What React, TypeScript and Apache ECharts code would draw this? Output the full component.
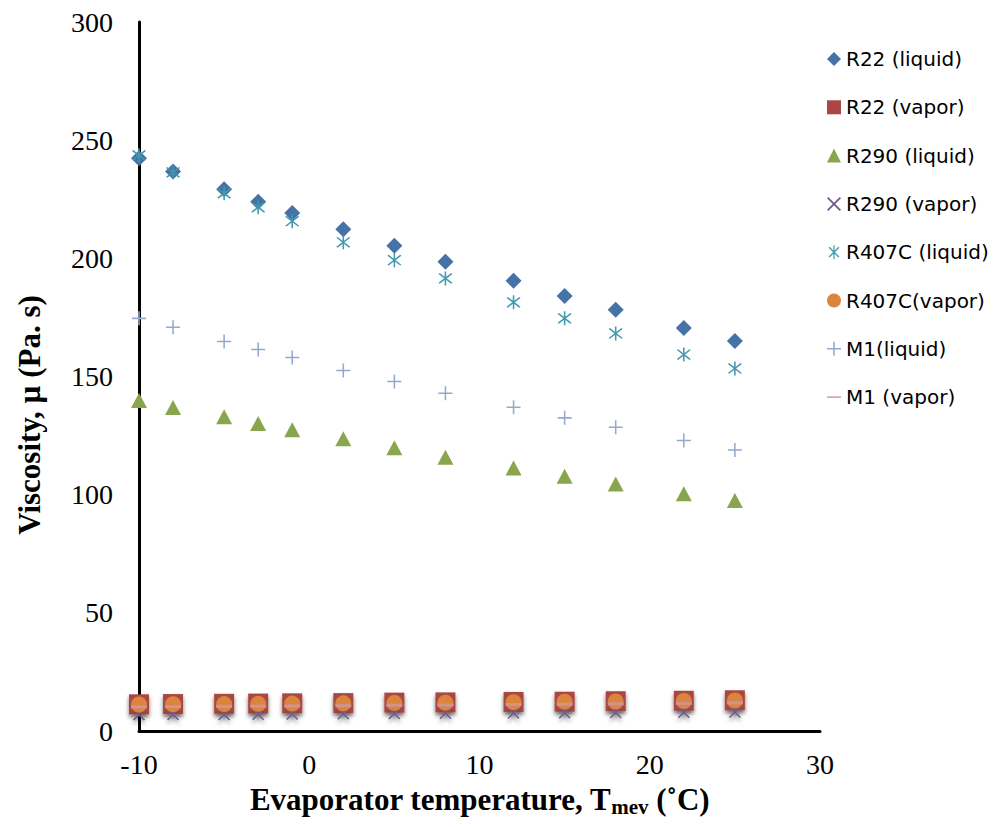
import React, { useEffect, useRef } from "react";
import * as echarts from "echarts";

const temps = [-10, -8, -5, -3, -1, 2, 5, 8, 12, 15, 18, 22, 25];
const r22Liquid = [242.4, 236.7, 229.2, 223.9, 219.2, 212.3, 205.3, 198.6, 190.5, 184.1, 178.2, 170.5, 165.0];
const r22Vapor = [11.3, 11.4, 11.5, 11.6, 11.7, 11.8, 12.0, 12.1, 12.3, 12.4, 12.6, 12.8, 13.0];
const r290Liquid = [139.8, 136.9, 133.0, 130.1, 127.5, 123.7, 119.9, 115.8, 111.3, 107.8, 104.5, 100.4, 97.5];
const r290Vapor = [6.9, 7.0, 7.0, 7.1, 7.2, 7.3, 7.4, 7.5, 7.6, 7.7, 7.8, 7.9, 8.0];
const r407cLiquid = [243.6, 236.4, 227.5, 221.6, 215.7, 206.8, 199.2, 191.5, 181.4, 174.6, 168.2, 159.3, 153.4];
const r407cVapor = [11.2, 11.3, 11.4, 11.5, 11.6, 11.7, 11.9, 12.0, 12.2, 12.4, 12.5, 12.7, 12.9];
const m1Liquid = [174.6, 170.8, 164.8, 161.4, 158.0, 152.5, 147.9, 142.9, 137.0, 132.5, 128.5, 122.9, 118.9];
const m1Vapor = [10.2, 10.3, 10.4, 10.5, 10.6, 10.7, 10.9, 11.0, 11.2, 11.3, 11.5, 11.7, 11.9];

const seriesNames = [
  "R22 (liquid)",
  "R22 (vapor)",
  "R290 (liquid)",
  "R290 (vapor)",
  "R407C (liquid)",
  "R407C(vapor)",
  "M1(liquid)",
  "M1 (vapor)",
];

const xTitle = "Evaporator temperature, T{sub|mev} (˚C)";
const yTitle = "Viscosity, µ (Pa. s)";

const X_PATH = "path://M0,0.9L0.9,0L10,9.1L9.1,10Z M9.1,0L10,0.9L0.9,10L0,9.1Z";
const STAR_PATH = "path://M0,0.9L0.9,0L10,9.1L9.1,10Z M9.1,0L10,0.9L0.9,10L0,9.1Z M4.45,-1.5H5.55V11.5H4.45Z";
const PLUS_PATH = "path://M4.45,0H5.55V10H4.45Z M0,4.45H10V5.55H0Z";
const DASH_PATH = "path://M0,0H10V1H0Z";

function pairs(vals: number[]) {
  return temps.map((t, i) => [t, vals[i]]);
}

const vaporShadow = {
  shadowBlur: 4,
  shadowColor: "rgba(0,0,0,0.55)",
  shadowOffsetY: 3,
};

export default function App() {
  const ref = useRef<HTMLDivElement>(null);
  useEffect(() => {
    if (!ref.current) return;
    const chart = echarts.init(ref.current, undefined, { renderer: "svg" });
    const serif = "Liberation Serif";
    chart.setOption({
      animation: false,
      backgroundColor: "#ffffff",
      grid: { left: 139, right: 183, top: 22, bottom: 96, containLabel: false },
      legend: {
        orient: "vertical",
        left: 822,
        top: 44,
        itemWidth: 14,
        itemHeight: 14,
        itemGap: 28.3,
        data: seriesNames,
        textStyle: { fontFamily: "DejaVu Sans", fontSize: 20, color: "#000" },
      },
      graphic: [
        {
          type: "text",
          x: 29,
          y: 415,
          rotation: Math.PI / 2,
          style: {
            text: yTitle,
            fontFamily: serif,
            fontSize: 31,
            fontWeight: "bold",
            fill: "#000",
            textAlign: "center",
            textVerticalAlign: "middle",
          },
        },
      ],
      xAxis: {
        type: "value",
        min: -10,
        max: 30,
        interval: 10,
        splitLine: { show: false },
        axisTick: { show: false },
        axisLine: { onZero: false, lineStyle: { color: "#000", width: 3 } },
        axisLabel: { fontFamily: serif, fontSize: 28, color: "#000", margin: 19 },
        name: xTitle,
        nameLocation: "middle",
        nameGap: 51,
        nameTextStyle: {
          fontFamily: serif,
          fontSize: 31,
          fontWeight: "bold",
          color: "#000",
          rich: {
            sub: {
              fontFamily: serif,
              fontSize: 21,
              fontWeight: "bold",
              color: "#000",
              verticalAlign: "bottom",
              padding: [14, 0, 0, 0],
            },
          },
        },
      },
      yAxis: {
        type: "value",
        min: 0,
        max: 300,
        interval: 50,
        splitLine: { show: false },
        axisTick: { show: false },
        axisLine: { onZero: false, lineStyle: { color: "#000", width: 3 } },
        axisLabel: { fontFamily: serif, fontSize: 28, color: "#000", margin: 26 },
      },
      series: [
        {
          name: seriesNames[0],
          type: "scatter",
          data: pairs(r22Liquid),
          symbol: "diamond",
          symbolSize: 16,
          itemStyle: { color: "#4572A7", opacity: 1 },
        },
        {
          name: seriesNames[1],
          type: "scatter",
          data: pairs(r22Vapor),
          symbol: "rect",
          symbolSize: 20,
          itemStyle: { color: "#AA4643", opacity: 1, ...vaporShadow },
        },
        {
          name: seriesNames[2],
          type: "scatter",
          data: pairs(r290Liquid),
          symbol: "triangle",
          symbolSize: [16, 15],
          itemStyle: { color: "#89A54E", opacity: 1 },
        },
        {
          name: seriesNames[3],
          type: "scatter",
          data: pairs(r290Vapor),
          symbol: X_PATH,
          symbolSize: 12,
          itemStyle: { color: "#71588F", opacity: 1, ...vaporShadow },
        },
        {
          name: seriesNames[4],
          type: "scatter",
          data: pairs(r407cLiquid),
          symbol: STAR_PATH,
          symbolSize: 14,
          itemStyle: { color: "#4198AF", opacity: 1 },
        },
        {
          name: seriesNames[5],
          type: "scatter",
          data: pairs(r407cVapor),
          symbol: "circle",
          symbolSize: 16,
          itemStyle: { color: "#DB843D", opacity: 1 },
        },
        {
          name: seriesNames[6],
          type: "scatter",
          data: pairs(m1Liquid),
          symbol: PLUS_PATH,
          symbolSize: 14,
          itemStyle: { color: "#93A9CF", opacity: 1 },
        },
        {
          name: seriesNames[7],
          type: "scatter",
          data: pairs(m1Vapor),
          symbol: DASH_PATH,
          symbolSize: [16, 3],
          itemStyle: { color: "#D19392", opacity: 1 },
        },
      ],
    });
    return () => chart.dispose();
  }, []);
  return (
    <div
      ref={ref}
      style={{ position: "absolute", left: 0, top: 0, width: 1003, height: 827, background: "#fff" }}
    />
  );
}
